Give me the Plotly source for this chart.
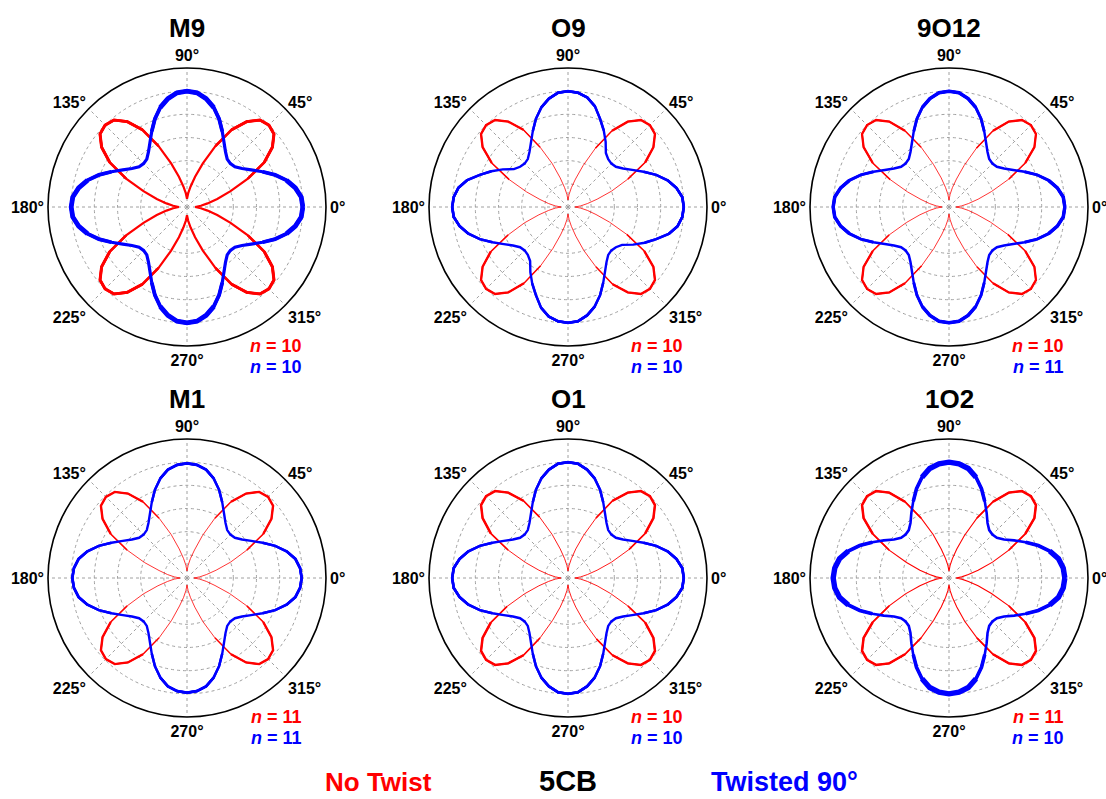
import plotly.graph_objects as go

W, H = 1106, 799

# ---------------- data ----------------
PANEL_TITLES = ["M9", "O9", "9O12", "M1", "O1", "1O2"]
N_RED = [10, 10, 10, 11, 10, 11]
N_BLUE = [10, 10, 11, 11, 10, 10]

# angles of one quarter period (degrees); the pattern repeats every 90°
QUARTER_ANGLES = [0, 5, 10, 15, 20, 25, 30, 35, 40, 45, 50, 55, 60, 65, 70, 75, 80, 85, 90]

# No Twist (red) normalised intensity over one quarter
RED_M9 = [0.07, 0.12, 0.18, 0.27, 0.40, 0.58, 0.77, 0.90, 0.98, 1.00, 0.98, 0.90, 0.77, 0.58, 0.40, 0.27, 0.18, 0.12, 0.07]
RED_O9 = [0.06, 0.11, 0.17, 0.26, 0.40, 0.57, 0.77, 0.90, 0.98, 1.00, 0.98, 0.90, 0.76, 0.56, 0.38, 0.25, 0.17, 0.11, 0.06]
RED_9O12 = [0.06, 0.11, 0.17, 0.26, 0.39, 0.57, 0.76, 0.90, 0.98, 1.00, 0.98, 0.90, 0.76, 0.56, 0.38, 0.25, 0.17, 0.11, 0.06]
RED_M1 = [0.06, 0.11, 0.17, 0.26, 0.40, 0.57, 0.76, 0.89, 0.97, 0.99, 0.97, 0.89, 0.76, 0.57, 0.39, 0.25, 0.17, 0.11, 0.06]
RED_O1 = [0.06, 0.11, 0.17, 0.26, 0.40, 0.58, 0.77, 0.90, 0.98, 1.00, 0.98, 0.90, 0.77, 0.57, 0.39, 0.26, 0.17, 0.11, 0.06]
RED_1O2 = [0.06, 0.11, 0.17, 0.26, 0.40, 0.57, 0.76, 0.90, 0.98, 1.00, 0.98, 0.90, 0.76, 0.57, 0.39, 0.26, 0.17, 0.11, 0.06]

# Twisted 90° (blue) normalised intensity over one quarter
BLUE_M9 = [1.00, 0.99, 0.95, 0.89, 0.81, 0.72, 0.64, 0.58, 0.54, 0.53, 0.54, 0.58, 0.64, 0.72, 0.81, 0.89, 0.95, 0.99, 1.00]
BLUE_O9 = [1.00, 0.99, 0.95, 0.89, 0.81, 0.72, 0.64, 0.58, 0.54, 0.53, 0.54, 0.57, 0.65, 0.73, 0.81, 0.90, 0.96, 0.99, 0.99]
BLUE_9O12 = [1.00, 0.99, 0.95, 0.89, 0.81, 0.72, 0.64, 0.58, 0.54, 0.53, 0.54, 0.58, 0.64, 0.72, 0.81, 0.89, 0.95, 0.99, 1.00]
BLUE_M1 = [0.99, 0.98, 0.95, 0.89, 0.81, 0.72, 0.64, 0.58, 0.54, 0.53, 0.54, 0.58, 0.64, 0.72, 0.81, 0.89, 0.95, 0.98, 0.99]
BLUE_O1 = [1.00, 0.99, 0.95, 0.89, 0.81, 0.72, 0.64, 0.58, 0.54, 0.53, 0.54, 0.58, 0.64, 0.72, 0.81, 0.89, 0.95, 0.99, 1.00]
BLUE_1O2 = [1.00, 0.99, 0.96, 0.90, 0.82, 0.73, 0.65, 0.58, 0.54, 0.53, 0.54, 0.58, 0.65, 0.73, 0.82, 0.90, 0.96, 0.99, 0.99]

RED_SERIES = [RED_M9, RED_O9, RED_9O12, RED_M1, RED_O1, RED_1O2]
BLUE_SERIES = [BLUE_M9, BLUE_O9, BLUE_9O12, BLUE_M1, BLUE_O1, BLUE_1O2]

ANGLE_TICKS = [0, 45, 90, 135, 180, 225, 270, 315]
ANGLE_LABELS = ["0°", "45°", "90°", "135°", "180°", "225°", "270°", "315°"]
RADIAL_GRID = [0.2, 0.4, 0.6, 0.8, 1.0]
LEGEND_TEXTS = ["No Twist", "5CB", "Twisted 90°"]

# ---------------- styling ----------------
RED = "#ff0000"
BLUE = "#0000ff"
FONT = "Liberation Sans, Arial, sans-serif"
# (thin, medium, thick) widths per panel
RED_W = [(2.2, 2.6, 3.0), (0.8, 1.5, 2.4), (0.8, 1.5, 2.3), (0.8, 1.5, 2.4), (0.9, 1.6, 2.5), (1.1, 1.7, 2.5)]
BLUE_W = [(3.2, 3.8, 4.8), (2.4, 2.5, 2.7), (2.5, 2.9, 3.5), (2.4, 2.5, 2.7), (2.4, 2.5, 2.7), (2.6, 3.6, 5.4)]

CX = [187, 568, 949]
CY = [207, 578]
R = 139


def full_circle(quarter):
    th, rr = [], []
    for q in range(4):
        for a, v in zip(QUARTER_ANGLES[:-1], quarter[:-1]):
            th.append(q * 90 + a)
            rr.append(v)
    th.append(360)
    rr.append(quarter[0])
    return th, rr


def masked(rr, thr):
    return [v if v >= thr else None for v in rr]


fig = go.Figure()
annotations = []

for i in range(6):
    row, col = divmod(i, 3)
    pid = "polar" if i == 0 else f"polar{i + 1}"
    cx, cy = CX[col], CY[row]

    th_r, r_r = full_circle(RED_SERIES[i])
    th_b, r_b = full_circle(BLUE_SERIES[i])

    layers = [
        (th_r, r_r, RED, RED_W[i][0]),
        (th_r, masked(r_r, 0.45), RED, RED_W[i][1]),
        (th_r, masked(r_r, 0.75), RED, RED_W[i][2]),
        (th_b, r_b, BLUE, BLUE_W[i][0]),
        (th_b, masked(r_b, 0.72), BLUE, BLUE_W[i][1]),
        (th_b, masked(r_b, 0.86), BLUE, BLUE_W[i][2]),
    ]
    for th, rr, c, w in layers:
        fig.add_trace(go.Scatterpolar(r=rr, theta=th, mode="lines", subplot=pid,
                                      line=dict(color=c, width=w), showlegend=False,
                                      connectgaps=False, hoverinfo="skip"))

    fig.update_layout(**{pid: dict(
        domain=dict(x=[(cx - R) / W, (cx + R) / W], y=[1 - (cy + R) / H, 1 - (cy - R) / H]),
        bgcolor="white",
        radialaxis=dict(range=[0, 1.2], tickmode="array", tickvals=RADIAL_GRID,
                        showticklabels=False, ticks="", showline=False, showgrid=True,
                        gridcolor="#a0a0a0", gridwidth=1, griddash="dot"),
        angularaxis=dict(tickmode="array", tickvals=ANGLE_TICKS, ticktext=ANGLE_LABELS,
                         rotation=0, direction="counterclockwise", showline=True,
                         linecolor="black", linewidth=1.6, showgrid=True, gridcolor="#a0a0a0",
                         gridwidth=1, griddash="dot", ticks="",
                         tickfont=dict(family=FONT, size=16, color="black", weight="bold")),
    )})

    # panel title
    annotations.append(dict(text=f"<b>{PANEL_TITLES[i]}</b>", x=cx / W, y=1 - (cy - 179) / H,
                            xref="paper", yref="paper", showarrow=False, xanchor="center",
                            yanchor="middle", font=dict(family=FONT, size=26, color="black")))
    # n annotations
    annotations.append(dict(text=f"<b><i>n</i> = {N_RED[i]}</b>", x=(cx + 117) / W,
                            y=1 - (cy + 139) / H, xref="paper", yref="paper", showarrow=False,
                            xanchor="right", yanchor="middle",
                            font=dict(family=FONT, size=18, color=RED)))
    annotations.append(dict(text=f"<b><i>n</i> = {N_BLUE[i]}</b>", x=(cx + 117) / W,
                            y=1 - (cy + 160) / H, xref="paper", yref="paper", showarrow=False,
                            xanchor="right", yanchor="middle",
                            font=dict(family=FONT, size=18, color=BLUE)))

legend_x = [378, 568, 784]
legend_col = [RED, "black", BLUE]
legend_size = [26, 29, 27]
for t, x, c, s in zip(LEGEND_TEXTS, legend_x, legend_col, legend_size):
    annotations.append(dict(text=f"<b>{t}</b>", x=x / W, y=0.0, xref="paper",
                            yref="paper", showarrow=False, xanchor="center", yanchor="bottom",
                            font=dict(family=FONT, size=s, color=c)))

fig.update_layout(width=W, height=H, margin=dict(l=0, r=0, t=0, b=0),
                  paper_bgcolor="white", plot_bgcolor="white", annotations=annotations,
                  showlegend=False)

fig.write_html("out.html", config={"displayModeBar": False},
               post_script="document.body.style.margin='0';document.body.style.overflow='hidden';")
